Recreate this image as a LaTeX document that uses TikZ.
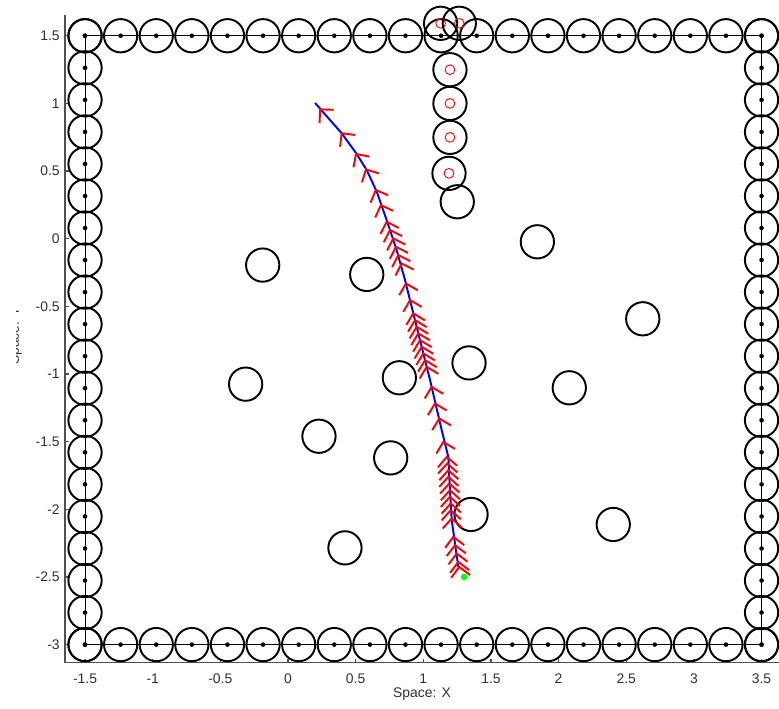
\documentclass[tikz,border=0pt]{standalone}
\usepackage{fontspec}
\setmainfont{Liberation Sans}
\definecolor{cpath}{HTML}{0000FF}
\definecolor{chead}{HTML}{FF0000}
\definecolor{cgoal}{HTML}{00FF00}
\definecolor{caxis}{HTML}{505050}
\definecolor{ctick}{HTML}{303030}
\tikzset{
  obst/.style={draw=black, line width=1.1pt},
  wline/.style={draw=black, line width=0.5pt},
  probe/.style={draw=chead, line width=0.5pt},
  traj/.style={draw=cpath, line width=1.1pt},
  head/.style={draw=chead, line width=1.1pt},
  ax/.style={draw=caxis, line width=0.7pt},
  tlbl/.style={font=\fontsize{7.9}{9.5}\selectfont, text=ctick, inner sep=0pt}
}

\begin{document}
\begin{tikzpicture}[x=2.7cm, y=2.7cm]
\useasboundingbox (-2.1286,-3.4706) rectangle (3.629,1.7642);

% axes
\draw[ax] (-1.648,1.653) -- (-1.648,-3.134) -- (3.629,-3.134);
\foreach \t in {-1.5,-1,-0.5,0,0.5,1,1.5,2,2.5,3,3.5} {
  \draw[ax] (\t,-3.134) -- ++(0,0.03);
  \node[tlbl] at (\t,-3.249) {\t};
}
\foreach \t in {-3,-2.5,-2,-1.5,-1,-0.5,0,0.5,1,1.5} {
  \draw[ax] (-1.648,\t) -- ++(0.03,0);
  \node[tlbl, anchor=east] at (-1.685,\t) {\t};
}
\node[tlbl] (xlbl) at (0.99,-3.365) {Space: X};
\begin{scope}
  \clip (-2.003,-3.4) rectangle (-1.9,1.7);
  \node[tlbl, rotate=90, anchor=base] (ylbl) at (-1.989,-0.72) {Space: Y};
\end{scope}

% wall
\draw[wline] (-1.5,1.5) -- (3.5,1.5) -- (3.5,-3) -- (-1.5,-3) -- cycle;
\foreach \i in {0,...,19} {
  \pgfmathsetmacro\wx{-1.5+\i*5/19}
  \pgfmathsetmacro\wy{-3+\i*4.5/19}
  \draw[obst] (\wx,1.5) circle (0.123);
  \draw[obst] (\wx,-3) circle (0.123);
  \draw[obst] (-1.5,\wy) circle (0.123);
  \draw[obst] (3.5,\wy) circle (0.123);
  \fill (\wx,1.5) circle (0.017);
  \fill (\wx,-3) circle (0.017);
  \fill (-1.5,\wy) circle (0.017);
  \fill (3.5,\wy) circle (0.017);
}

% inner column
\foreach \x/\y in {1.128/1.592,1.266/1.592,1.197/1.249,1.197/1.0,1.197/0.749,1.19/0.483} {
  \draw[obst] (\x,\y) circle (0.123);
  \draw[probe] (\x,\y) circle (0.036);
}
\draw[obst] (1.251,0.273) circle (0.123);

% obstacles
\foreach \x/\y in {-0.187/-0.195,0.582/-0.264,-0.313/-1.075,0.823/-1.028,
  1.843/-0.023,2.622/-0.592,1.338/-0.918,2.079/-1.102,0.229/-1.460,
  0.759/-1.620,0.421/-2.285,1.353/-2.038,2.404/-2.112}
  \draw[obst] (\x,\y) circle (0.123);

% trajectory
\draw[traj] (1.259,-2.426) -- (1.234,-2.253) -- (1.210,-2.079) -- (1.197,-1.859)
  -- (1.185,-1.613) -- (1.136,-1.415) -- (1.050,-1.046) -- (0.988,-0.799)
  -- (0.926,-0.552) -- (0.865,-0.306) -- (0.803,-0.084) -- (0.729,0.138)
  -- (0.656,0.347) -- (0.582,0.507) -- (0.503,0.633) -- (0.397,0.779)
  -- (0.200,1.003);

% heading marks
\foreach \x/\y/\a in {1.266/-2.426/98,1.259/-2.389/98,1.247/-2.327/98,1.234/-2.265/98,1.222/-2.204/98,
  1.210/-2.068/93,1.203/-2.007/93,1.203/-1.957/93,1.197/-1.908/93,1.197/-1.859/93,
  1.192/-1.809/93,1.185/-1.760/93,1.185/-1.711/93,1.177/-1.661/93,1.173/-1.613/95,
  1.148/-1.502/104,1.118/-1.329/104,1.086/-1.218/104,1.062/-1.095/104,
  1.025/-0.947/104,1.013/-0.898/104,1.000/-0.848/104,0.988/-0.799/104,0.976/-0.750/104,
  0.963/-0.700/104,0.951/-0.651/104,0.939/-0.602/104,0.926/-0.552/104,
  0.902/-0.454/105,0.872/-0.331/105,
  0.840/-0.183/108,0.815/-0.121/108,0.798/-0.060/108,0.778/0.002/108,0.754/0.064/108,0.729/0.125/108,
  0.687/0.248/110,0.648/0.359/113,0.576/0.512/118,0.503/0.626/124,0.397/0.779/128,0.237/0.956/133}
  \draw[head] (\x,\y) ++(\a+135:0.1) -- (\x,\y) -- ++(\a+225:0.1);

% goal
\fill[cgoal] (1.301,-2.50) circle (0.024);

\end{tikzpicture}
\end{document}
